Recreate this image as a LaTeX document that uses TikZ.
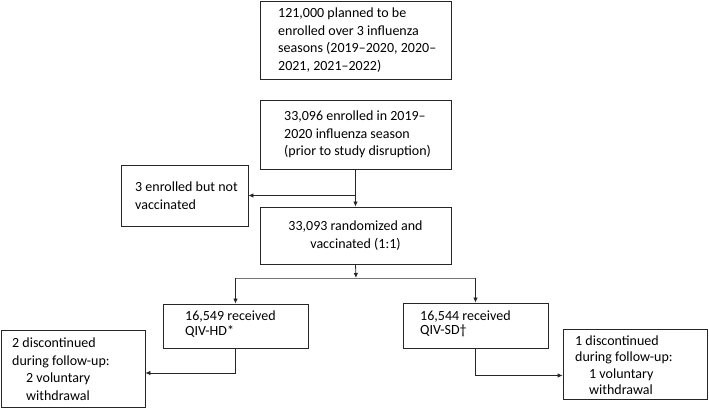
\documentclass[tikz,border=0pt]{standalone}
\usepackage{fontspec}
\setmainfont{Carlito}
\usetikzlibrary{arrows.meta}
\begin{document}
\begin{tikzpicture}[x=1pt,y=1pt,
  box/.style={draw=black!85, line width=0.8pt, inner sep=0pt},
  txt/.style={font=\fontsize{14}{17.5}\selectfont, align=left, anchor=west, inner sep=0pt},
  conn/.style={draw=black!85, line width=0.8pt},
  arr/.style={conn, -{Latex[length=5pt,width=4.5pt]}}]
\useasboundingbox (0,0) rectangle (709,409);
% boxes (image y flipped: y = 409 - y_img)
\node[box, minimum width=191pt, minimum height=78pt] (b1) at (355.5,369) {};
\node[txt] (t1) at (278,369)
 {121,000 planned to be\\enrolled over 3 influenza\\seasons (2019--2020, 2020--\\2021, 2021--2022)};
\node[box, minimum width=191pt, minimum height=69pt] (b2) at (355.5,274.5) {};
\node[txt] (t2) at (284,274.5)
 {33,096 enrolled in 2019--\\2020 influenza season\\(prior to study disruption)};
\node[box, minimum width=127pt, minimum height=61pt] (nv) at (184.5,213.5) {};
\node[txt] (tnv) at (135,213.5)
 {3 enrolled but not\\vaccinated};
\node[box, minimum width=191pt, minimum height=57pt, align=center,
  font=\fontsize{14}{17.5}\selectfont] (b3) at (355.5,173.5)
 {33,093 randomized and\\vaccinated (1:1)};
\node[box, minimum width=145pt, minimum height=44pt] (b4) at (235.5,83) {};
\node[txt, font=\fontsize{14}{14.5}\selectfont] (t4) at (185,85)
 {16,549 received\\QIV-HD*};
\node[box, minimum width=145pt, minimum height=45pt] (b5) at (475.5,83.5) {};
\node[txt, font=\fontsize{14}{14.5}\selectfont] (t5) at (420,85)
 {16,544 received\\QIV-SD†};
\node[box, minimum width=144pt, minimum height=77pt] (b6) at (73,40.5) {};
\node[txt] (t6) at (12,40)
 {2 discontinued\\during follow-up:\\\hspace*{14pt}2 voluntary\\\hspace*{14pt}withdrawal};
\node[box, minimum width=144pt, minimum height=70pt] (b7) at (635,45) {};
\node[txt, font=\fontsize{14}{16.5}\selectfont] (t7) at (575,44)
 {1 discontinued\\during follow-up:\\\hspace*{14pt}1 voluntary\\\hspace*{14pt}withdrawal};
% connectors
\coordinate (split) at (356,131);
\draw[arr] (b2.south) -- (b3.north);
\draw[arr] (b2.south |- nv.east) -- (nv.east);
\draw[arr] (b3.south) -- (split);
\draw[conn, draw=black!55] (b4.north |- split) -- (b5.north |- split);
\draw[arr] (b4.north |- split) -- (b4.north);
\draw[arr] (b5.north |- split) -- (b5.north);
\draw[arr] (b4.south) |- ([yshift=-4.5pt]b6.east);
\draw[arr] (b5.south) |- ([yshift=-11.5pt]b7.west);
\end{tikzpicture}
\end{document}
